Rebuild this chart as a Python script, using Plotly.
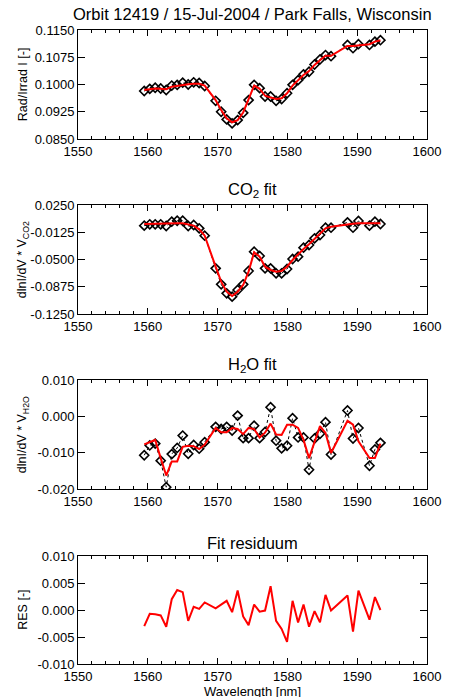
import plotly.graph_objects as go

# ---------------- data ----------------
wavelength = [1559.49, 1560.28, 1561.06, 1561.85, 1562.64, 1563.43, 1564.21, 1565.00,
              1565.79, 1566.57, 1567.36, 1568.15, 1569.72, 1570.51, 1571.30, 1572.08,
              1572.87, 1573.66, 1574.44, 1575.23, 1576.02, 1576.80, 1577.59, 1578.38,
              1579.17, 1579.95, 1580.74, 1581.53, 1582.31, 1583.10, 1583.89, 1584.67,
              1585.46, 1586.25, 1588.61, 1589.40, 1590.18, 1591.76, 1592.54, 1593.33]

rad_meas = [0.0982, 0.0988, 0.0991, 0.0989, 0.0985, 0.0997, 0.0999, 0.1005, 0.1000, 0.1006,
            0.1004, 0.0996, 0.0955, 0.0925, 0.0904, 0.0893, 0.0902, 0.0922, 0.0957, 0.0999,
            0.0990, 0.0967, 0.0967, 0.0955, 0.0960, 0.0976, 0.0999, 0.1012, 0.1028, 0.1035,
            0.1055, 0.1069, 0.1081, 0.1078, 0.1109, 0.1100, 0.1111, 0.1109, 0.1118, 0.1122]
rad_fit = [0.0985, 0.0987, 0.0989, 0.0988, 0.0987, 0.0994, 0.0997, 0.1000, 0.1001, 0.1002,
           0.1002, 0.0997, 0.0957, 0.0930, 0.0907, 0.0896, 0.0902, 0.0923, 0.0960, 0.0997,
           0.0988, 0.0969, 0.0964, 0.0960, 0.0962, 0.0976, 0.0997, 0.1012, 0.1026, 0.1037,
           0.1054, 0.1067, 0.1079, 0.1079, 0.1106, 0.1106, 0.1107, 0.1111, 0.1118, 0.1122]

co2_meas = [-0.0034, -0.0016, -0.0016, -0.0016, -0.0039, 0.0021, 0.0034, 0.0034, -0.0039, -0.0025,
            -0.0071, -0.0172, -0.0622, -0.0842, -0.0966, -0.1011, -0.0920, -0.0842, -0.0658, -0.0392,
            -0.0452, -0.0622, -0.0622, -0.0690, -0.0690, -0.0631, -0.0493, -0.0461, -0.0337, -0.0300,
            -0.0209, -0.0163, -0.0062, -0.0062, 0.0011, -0.0062, 0.0030, -0.0034, 0.0021, -0.0011]
co2_fit = [-0.0011, -0.0008, -0.0005, -0.0004, -0.0003, -0.0002, -0.0002, -0.0002, -0.0015, -0.0034,
           -0.0085, -0.0172, -0.0599, -0.0805, -0.0943, -0.1002, -0.0943, -0.0851, -0.0667, -0.0401,
           -0.0461, -0.0599, -0.0644, -0.0667, -0.0658, -0.0599, -0.0507, -0.0429, -0.0356, -0.0291,
           -0.0218, -0.0154, -0.0071, -0.0048, -0.0011, -0.0007, -0.0002, -0.0002, -0.0002, -0.0002]

h2o_meas = [-0.0107, -0.0080, -0.0075, -0.0122, -0.0195, -0.0104, -0.0087, -0.0053, -0.0103, -0.0079,
            -0.0089, -0.0071, -0.0029, -0.0035, -0.0029, -0.0039, 0.0002, -0.0060, -0.0060, -0.0026,
            -0.0060, -0.0043, 0.0025, -0.0067, -0.0088, -0.0081, -0.0005, -0.0058, -0.0058, -0.0147,
            -0.0061, -0.0048, -0.0016, -0.0105, 0.0016, -0.0061, -0.0032, -0.0136, -0.0091, -0.0073]
h2o_fit = [-0.0077, -0.0071, -0.0065, -0.0115, -0.0163, -0.0124, -0.0124, -0.0084, -0.0081, -0.0082,
           -0.0090, -0.0078, -0.0032, -0.0044, -0.0044, -0.0032, -0.0035, -0.0049, -0.0032, -0.0035,
           -0.0058, -0.0045, -0.0020, -0.0050, -0.0051, -0.0023, -0.0023, -0.0032, -0.0065, -0.0115,
           -0.0069, -0.0027, -0.0046, -0.0101, -0.0012, -0.0023, -0.0069, -0.0115, -0.0115, -0.0075]

residuum = [-0.0030, -0.0007, -0.0008, -0.0010, -0.0031, 0.0020, 0.0037, 0.0033, -0.0020, 0.0006,
            0.0002, 0.0014, 0.0003, 0.0010, 0.0017, -0.0004, 0.0036, -0.0012, -0.0028, 0.0010,
            -0.0003, -0.0001, 0.0044, -0.0020, -0.0035, -0.0059, 0.0017, -0.0023, 0.0010, -0.0031,
            -0.0002, -0.0023, 0.0028, -0.0001, 0.0027, -0.0040, 0.0036, -0.0018, 0.0024, 0.0000]

x_ticks = [1550, 1560, 1570, 1580, 1590, 1600]
y1_ticks = [0.0850, 0.0925, 0.1000, 0.1075, 0.1150]
y2_ticks = [-0.1250, -0.0875, -0.0500, -0.0125, 0.0250]
y3_ticks = [-0.020, -0.010, 0.000, 0.010]
y4_ticks = [-0.010, -0.005, 0.000, 0.005, 0.010]

titles = ["Orbit 12419 / 15-Jul-2004 / Park Falls, Wisconsin",
          "CO<sub>2</sub> fit", "H<sub>2</sub>O fit", "Fit residuum"]
ytitles = ["Rad/Irrad I [-]", "dlnI/dV * V<sub>CO2</sub>",
           "dlnI/dV * V<sub>H2O</sub>", "RES [-]"]
xtitle = "Wavelength [nm]"

# ---------------- layout geometry ----------------
W, H = 453, 697
ML, MR, MT, MB = 78, 15, 30, 33
PH = H - MT - MB
panels_px = [(30, 139), (205, 314), (380, 489), (556, 664)]  # top, bottom (pixels)
title_px = [14, 190, 365, 543]
FONT = "Liberation Sans, Arial, Helvetica, sans-serif"


def py(p):
    return (H - MB - p) / PH


def fmt(v, nd):
    return f"{v:.{nd}f}"


fig = go.Figure()

meas_sets = [rad_meas, co2_meas, h2o_meas, None]
fit_sets = [rad_fit, co2_fit, h2o_fit, residuum]
ytick_sets = [(y1_ticks, 4), (y2_ticks, 4), (y3_ticks, 3), (y4_ticks, 3)]

for i in range(4):
    xa = "x" if i == 0 else f"x{i+1}"
    ya = "y" if i == 0 else f"y{i+1}"
    if meas_sets[i] is not None:
        fig.add_trace(go.Scatter(
            x=wavelength, y=meas_sets[i], mode="lines+markers", xaxis=xa, yaxis=ya,
            line=dict(color="black", width=1, dash="dot"),
            marker=dict(symbol="diamond-open", size=7, color="black",
                        line=dict(color="black", width=1.6)),
            showlegend=False, hoverinfo="skip"))
    fig.add_trace(go.Scatter(
        x=wavelength, y=fit_sets[i], mode="lines", xaxis=xa, yaxis=ya,
        line=dict(color="#ff0000", width=2), showlegend=False, hoverinfo="skip"))

layout = dict(
    width=W, height=H,
    margin=dict(l=ML, r=MR, t=MT, b=MB, pad=0),
    paper_bgcolor="white", plot_bgcolor="white",
    font=dict(family=FONT, size=13, color="black"),
    showlegend=False,
)

for i in range(4):
    top, bot = panels_px[i]
    xk = "xaxis" if i == 0 else f"xaxis{i+1}"
    yk = "yaxis" if i == 0 else f"yaxis{i+1}"
    ya = "y" if i == 0 else f"y{i+1}"
    xa = "x" if i == 0 else f"x{i+1}"
    tv, nd = ytick_sets[i]
    layout[xk] = dict(
        domain=[0, 1], anchor=ya, range=[1550, 1600],
        tickvals=x_ticks, ticktext=[str(t) for t in x_ticks],
        ticks="inside", ticklen=6, tickwidth=1, tickcolor="black",
        showline=True, linecolor="black", linewidth=1, mirror="ticks",
        showgrid=False, zeroline=False,
        tickfont=dict(family=FONT, size=13, color="black"),
        minor=dict(dtick=2, tick0=1550, ticks="inside", ticklen=3,
                   tickwidth=1, tickcolor="black", showgrid=False),
    )
    layout[yk] = dict(
        domain=[py(bot), py(top)], anchor=xa, range=[tv[0], tv[-1]],
        tickvals=tv, ticktext=[fmt(v, nd) for v in tv],
        ticks="inside", ticklen=7, tickwidth=1, tickcolor="black",
        showline=True, linecolor="black", linewidth=1, mirror="ticks",
        showgrid=False, zeroline=False,
        tickfont=dict(family=FONT, size=13, color="black"),
    )

annotations = []
for i in range(4):
    annotations.append(dict(
        text=titles[i], x=0.5, y=py(title_px[i]), xref="paper", yref="paper",
        xanchor="center", yanchor="middle", showarrow=False,
        font=dict(family=FONT, size=16.5, color="black")))
    top, bot = panels_px[i]
    annotations.append(dict(
        text=ytitles[i], x=(21 - ML) / (W - ML - MR), y=py((top + bot) / 2),
        xref="paper", yref="paper", xanchor="center", yanchor="middle",
        textangle=-90, showarrow=False,
        font=dict(family=FONT, size=12.5, color="black")))
annotations.append(dict(
    text=xtitle, x=0.5, y=py(691), xref="paper", yref="paper",
    xanchor="center", yanchor="middle", showarrow=False,
    font=dict(family=FONT, size=13, color="black")))
layout["annotations"] = annotations

fig.update_layout(**layout)
fig.write_html("out.html", config={"displayModeBar": False},
               post_script="document.body.style.margin='0';document.body.style.overflow='hidden';")
